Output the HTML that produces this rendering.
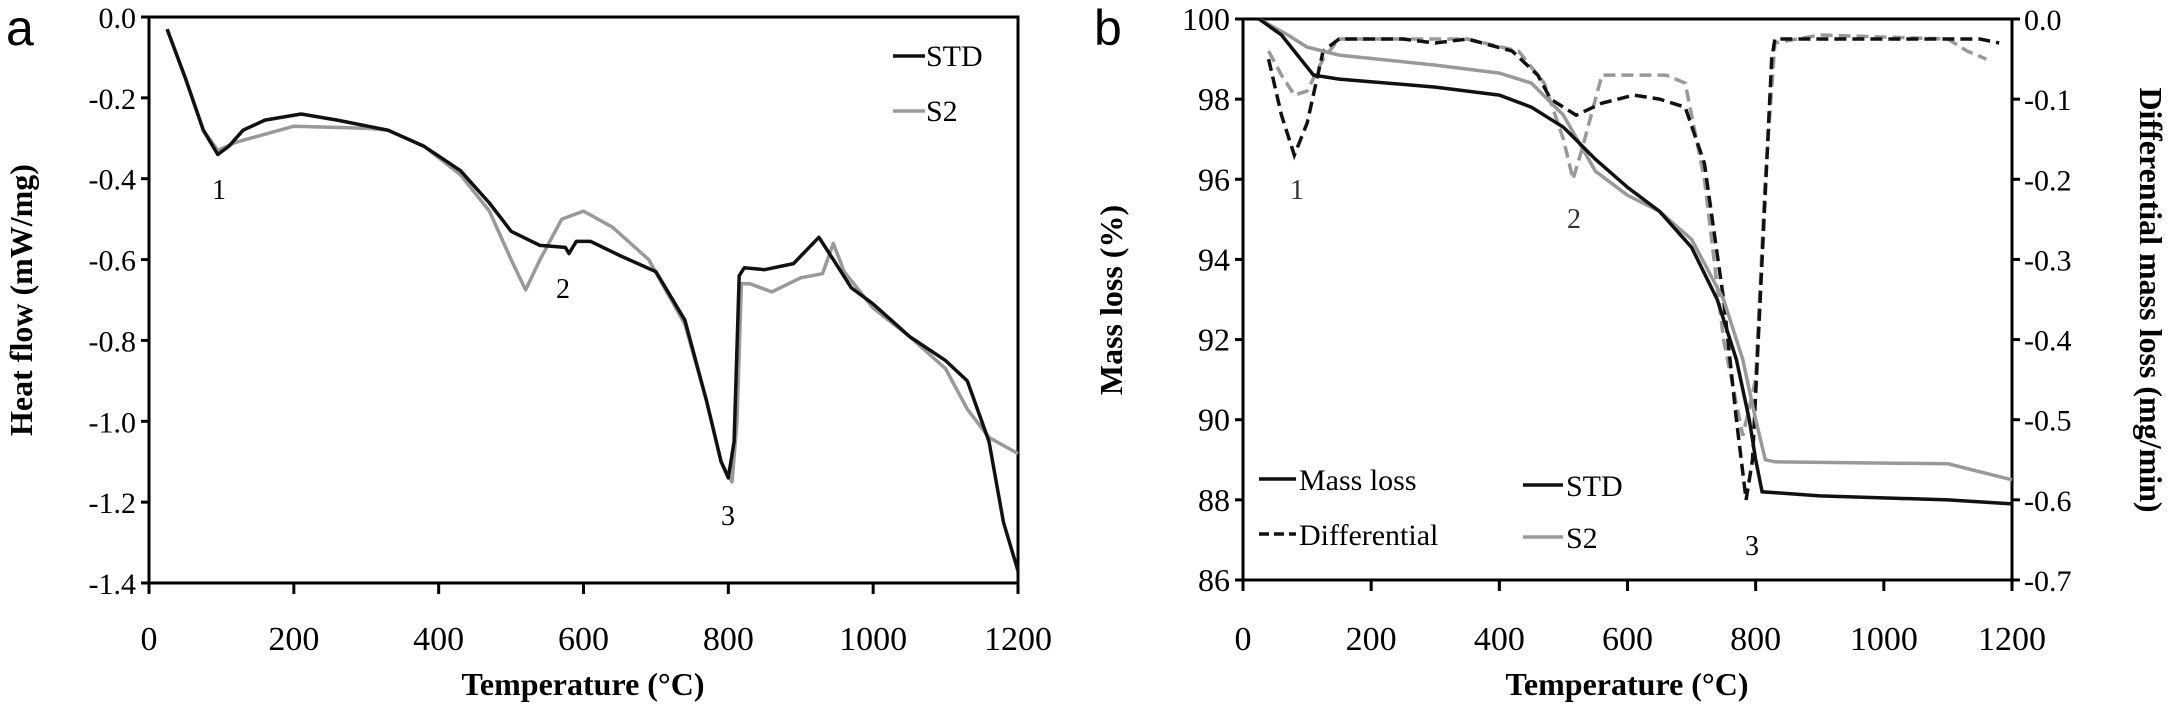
<!DOCTYPE html>
<html><head><meta charset="utf-8">
<style>
html,body{margin:0;padding:0;background:#fff;}
svg{display:block;font-family:"Liberation Serif",serif;}
</style></head>
<body>
<svg id="chart" width="2175" height="707" viewBox="0 0 2175 707"></svg>
<script>
// Panel a data
const aStdT=[25,50,75,95,110,130,160,210,260,330,380,430,470,500,540,575,580,590,610,650,700,740,770,790,800,808,815,822,850,890,925,945,970,1000,1050,1100,1130,1160,1180,1200];
const aStdV=[-0.03,-0.15,-0.28,-0.34,-0.32,-0.28,-0.255,-0.24,-0.255,-0.28,-0.32,-0.38,-0.46,-0.53,-0.565,-0.57,-0.585,-0.555,-0.555,-0.59,-0.63,-0.75,-0.95,-1.1,-1.14,-1.05,-0.64,-0.62,-0.625,-0.61,-0.545,-0.6,-0.67,-0.71,-0.79,-0.85,-0.9,-1.05,-1.25,-1.37];
const aS2T=[25,50,75,95,120,200,300,330,380,430,470,500,520,540,570,600,640,690,740,770,790,805,812,818,830,860,900,930,945,960,1000,1050,1100,1130,1160,1200];
const aS2V=[-0.03,-0.15,-0.28,-0.33,-0.31,-0.27,-0.275,-0.28,-0.32,-0.39,-0.48,-0.6,-0.675,-0.6,-0.5,-0.48,-0.52,-0.6,-0.76,-0.95,-1.1,-1.15,-1.0,-0.66,-0.66,-0.68,-0.645,-0.635,-0.56,-0.63,-0.72,-0.79,-0.87,-0.97,-1.04,-1.08];
// Panel b data
const bMassStdT=[25,60,90,110,150,300,400,450,500,550,600,650,700,740,770,790,800,810,900,1100,1200];
const bMassStdV=[100,99.6,99,98.6,98.5,98.3,98.1,97.8,97.3,96.5,95.8,95.2,94.3,93,91.5,90,89,88.2,88.1,88,87.9];
const bMassS2T=[25,70,100,150,300,400,450,500,550,600,650,700,750,780,800,815,830,1100,1200];
const bMassS2V=[100,99.6,99.3,99.1,98.85,98.65,98.4,97.6,96.2,95.6,95.2,94.5,93,91.5,90,89,88.95,88.9,88.5];
const bDiffStdT=[40,60,80,100,125,150,250,300,350,420,460,480,520,560,610,650,690,720,750,770,785,795,810,825,830,900,1100,1150,1180];
const bDiffStdV=[-0.05,-0.12,-0.17,-0.13,-0.04,-0.025,-0.025,-0.03,-0.025,-0.04,-0.07,-0.1,-0.12,-0.105,-0.095,-0.1,-0.11,-0.18,-0.35,-0.5,-0.6,-0.55,-0.3,-0.05,-0.025,-0.025,-0.025,-0.025,-0.03];
const bDiffS2T=[40,60,80,100,125,150,350,430,470,500,515,530,560,600,660,690,720,750,780,800,815,830,900,1100,1130,1160];
const bDiffS2V=[-0.04,-0.07,-0.095,-0.09,-0.05,-0.025,-0.025,-0.04,-0.08,-0.15,-0.2,-0.16,-0.07,-0.07,-0.07,-0.08,-0.2,-0.4,-0.52,-0.45,-0.2,-0.03,-0.02,-0.025,-0.04,-0.05];
const xTicks=[0,200,400,600,800,1000,1200];
const aYTicks=[0,-0.2,-0.4,-0.6,-0.8,-1.0,-1.2,-1.4];
const bYTicks=[86,88,90,92,94,96,98,100];
const bY2Ticks=[0,-0.1,-0.2,-0.3,-0.4,-0.5,-0.6,-0.7];

const svg=document.getElementById('chart');
const NS='http://www.w3.org/2000/svg';
function el(tag,attrs,parent){const e=document.createElementNS(NS,tag);for(const k in attrs)e.setAttribute(k,attrs[k]);(parent||svg).appendChild(e);return e;}
function lin(d0,d1,r0,r1){return v=>r0+(v-d0)*(r1-r0)/(d1-d0);}
function pathD(ts,vs,sx,sy){return ts.map((t,i)=>(i?'L':'M')+sx(t).toFixed(1)+','+sy(vs[i]).toFixed(1)).join(' ');}
function txt(x,y,s,size,anchor,extra){const t=el('text',Object.assign({x:x,y:y,'font-size':size,'text-anchor':anchor||'middle',fill:'#000'},extra||{}));t.textContent=s;return t;}

// ---------- Panel a ----------
const ax=lin(0,1200,149,1018), ay=lin(0,-1.4,17,583);
const ga=el('g',{});


el('rect',{x:149,y:17,width:869,height:566,fill:'none',stroke:'#000','stroke-width':3},ga);
xTicks.forEach(t=>{el('line',{x1:ax(t),x2:ax(t),y1:583,y2:594,stroke:'#000','stroke-width':3},ga);
 const l=txt(ax(t),650,String(t),34);});
aYTicks.forEach(v=>{el('line',{x1:141,x2:149,y1:ay(v),y2:ay(v),stroke:'#000','stroke-width':3},ga);
 const l=txt(136,ay(v)+11,v.toFixed(1),30,'end');});
const aS2=el('path',{d:pathD(aS2T,aS2V,ax,ay),fill:'none',stroke:'#999','stroke-width':3.5,'stroke-linejoin':'round'},ga);


const aStd=el('path',{d:pathD(aStdT,aStdV,ax,ay),fill:'none',stroke:'#111','stroke-width':3.5,'stroke-linejoin':'round'},ga);


txt(583,695,'Temperature (°C)',32,'middle',{'font-weight':'bold',});
txt(0,0,'Heat flow (mW/mg)',32,'middle',{'font-weight':'bold',transform:'translate(32,300) rotate(-90)',});
txt(6,45,'a',50,'start',{'font-family':'Liberation Sans, sans-serif',});
txt(219,199,'1',28,'middle',{});
txt(563,298,'2',28,'middle',{});
txt(728,525,'3',28,'middle',{});
el('line',{x1:893,x2:925,y1:56,y2:56,stroke:'#111','stroke-width':3.5});
txt(926,66,'STD',30,'start',{});
el('line',{x1:893,x2:925,y1:111,y2:111,stroke:'#999','stroke-width':3.5});
txt(926,121,'S2',30,'start',{});

// ---------- Panel b ----------
const bx=lin(0,1200,1243,2012), by=lin(86,100,580,19), by2=lin(-0.7,0,580,19);
const gb=el('g',{});


el('rect',{x:1243,y:19,width:769,height:561,fill:'none',stroke:'#000','stroke-width':3},gb);
xTicks.forEach(t=>{el('line',{x1:bx(t),x2:bx(t),y1:580,y2:591,stroke:'#000','stroke-width':3},gb);
 const l=txt(bx(t),650,String(t),34);});
bYTicks.forEach(v=>{el('line',{x1:1235,x2:1243,y1:by(v),y2:by(v),stroke:'#000','stroke-width':3},gb);
 const l=txt(1230,by(v)+11,String(v),32,'end');});
bY2Ticks.forEach(v=>{el('line',{x1:2012,x2:2020,y1:by2(v),y2:by2(v),stroke:'#000','stroke-width':3},gb);
 const l=txt(2024,by2(v)+11,v.toFixed(1),30,'start');});
const d1=el('path',{d:pathD(bDiffS2T,bDiffS2V,bx,by2),fill:'none',stroke:'#999','stroke-width':3.5,'stroke-dasharray':'12,6'},gb);


const d2=el('path',{d:pathD(bDiffStdT,bDiffStdV,bx,by2),fill:'none',stroke:'#111','stroke-width':3.5,'stroke-dasharray':'12,6'},gb);


const m1=el('path',{d:pathD(bMassS2T,bMassS2V,bx,by),fill:'none',stroke:'#999','stroke-width':3.5},gb);


const m2=el('path',{d:pathD(bMassStdT,bMassStdV,bx,by),fill:'none',stroke:'#111','stroke-width':3.5},gb);


txt(1627,695,'Temperature (°C)',32,'middle',{'font-weight':'bold',});
txt(0,0,'Mass loss (%)',32,'middle',{'font-weight':'bold',transform:'translate(1122,300) rotate(-90)',});
txt(0,0,'Differential mass loss (mg/min)',32,'middle',{'font-weight':'bold',transform:'translate(2140,300) rotate(90)',});
txt(1094,45,'b',50,'start',{'font-family':'Liberation Sans, sans-serif',});
txt(1297,199,'1',28,'middle',{'fill':'#333',});
txt(1574,228,'2',28,'middle',{'fill':'#333',});
txt(1752,555,'3',28,'middle',{});
el('line',{x1:1259,x2:1296,y1:479,y2:479,stroke:'#111','stroke-width':3.5});
txt(1299,490,'Mass loss',30,'start',{});
el('line',{x1:1259,x2:1296,y1:534,y2:534,stroke:'#111','stroke-width':3.5,'stroke-dasharray':'10,5'});
txt(1299,545,'Differential',30,'start',{});
el('line',{x1:1523,x2:1563,y1:485,y2:485,stroke:'#111','stroke-width':3.5});
txt(1566,496,'STD',30,'start',{});
el('line',{x1:1523,x2:1563,y1:537,y2:537,stroke:'#999','stroke-width':3.5});
txt(1566,548,'S2',30,'start',{});
</script>
</body></html>
